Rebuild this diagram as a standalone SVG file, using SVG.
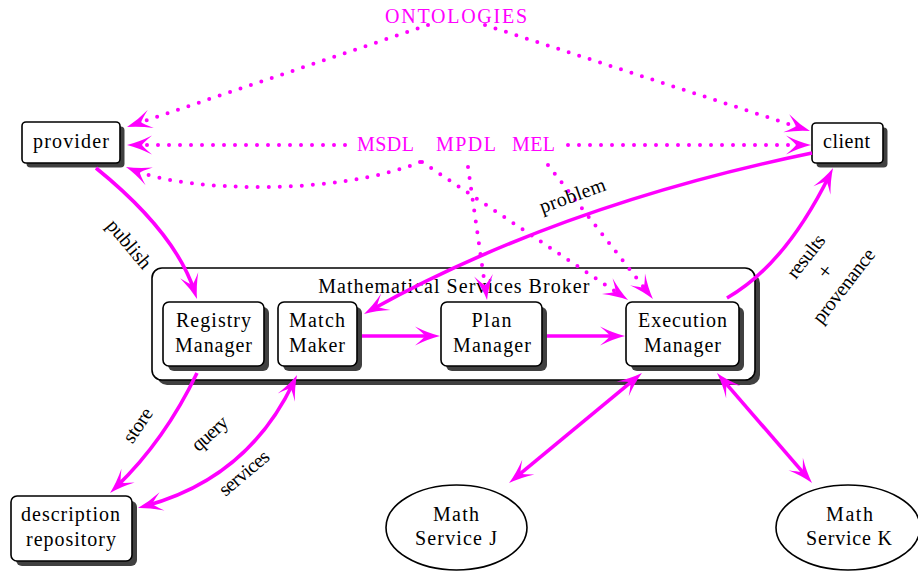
<svg xmlns="http://www.w3.org/2000/svg" width="918" height="572" viewBox="0 0 918 572">
<style>
.dot{stroke:#ff00ff;fill:none;stroke-width:4;stroke-dasharray:0 11;stroke-linecap:round}
.sol{stroke:#ff00ff;fill:none;stroke-width:3.6}
.box{fill:#fff;stroke:#000;stroke-width:1.6}
.shd{fill:#404040}
.ell{fill:#fff;stroke:#000;stroke-width:1.6}
text{font-family:"Liberation Serif","DejaVu Serif",serif;font-size:20px;text-anchor:middle;fill:#000}
.m{fill:#ff00ff}
</style>
<defs>
<marker id="ah" markerUnits="userSpaceOnUse" viewBox="-20 -12 32 24" markerWidth="32" markerHeight="24" refX="0" refY="0" orient="auto-start-reverse" overflow="visible">
<path d="M8,0 Q-4,-3 -17,-9.5 Q-8,-2 -7,0 Q-8,2 -17,9.5 Q-4,3 8,0 Z" fill="#ff00ff"/>
</marker>
</defs>
<rect width="918" height="572" fill="#fff"/>

<g id="ontologies"><text class="m" x="456" y="23" textLength="142">ONTOLOGIES</text></g>
<g id="msdl"><text class="m" x="385.5" y="151" textLength="57">MSDL</text></g>
<g id="mpdl"><text class="m" x="466" y="151" textLength="60">MPDL</text></g>
<g id="mel"><text class="m" x="533.5" y="151" textLength="43">MEL</text></g>

<g id="provider">
<rect class="shd" x="26.5" y="126.5" width="98" height="41" rx="4"/>
<rect class="box" x="22" y="122" width="98" height="41" rx="4"/>
<text x="71" y="148" textLength="76">provider</text>
</g>
<g id="client">
<rect class="shd" x="816.5" y="127.5" width="71" height="40" rx="4"/>
<rect class="box" x="812" y="123" width="71" height="40" rx="4"/>
<text x="846.5" y="148" textLength="47">client</text>
</g>

<g id="broker">
<rect class="shd" x="157" y="273" width="603" height="112" rx="10"/>
<rect class="box" x="152" y="268" width="603" height="112" rx="10"/>
<text x="453.8" y="293" textLength="271">Mathematical Services Broker</text>
</g>
<g id="registry">
<rect class="shd" x="168" y="307" width="101" height="64" rx="6"/>
<rect class="box" x="163" y="302" width="101" height="64" rx="6"/>
<text x="213.5" y="327" textLength="75">Registry</text>
<text x="213.5" y="352" textLength="77">Manager</text>
</g>
<g id="matchmaker">
<rect class="shd" x="283" y="307" width="79" height="64" rx="6"/>
<rect class="box" x="278" y="302" width="79" height="64" rx="6"/>
<text x="317" y="327" textLength="56">Match</text>
<text x="317" y="352" textLength="56">Maker</text>
</g>
<g id="plan">
<rect class="shd" x="446" y="307" width="101" height="64" rx="6"/>
<rect class="box" x="441" y="302" width="101" height="64" rx="6"/>
<text x="491.5" y="327" textLength="40">Plan</text>
<text x="492" y="352" textLength="78">Manager</text>
</g>
<g id="execution">
<rect class="shd" x="631" y="307" width="113" height="64" rx="6"/>
<rect class="box" x="626" y="302" width="113" height="64" rx="6"/>
<text x="682.5" y="327" textLength="89">Execution</text>
<text x="682.5" y="352" textLength="77">Manager</text>
</g>
<g id="repository">
<rect class="shd" x="16" y="501" width="121" height="65" rx="6"/>
<rect class="box" x="11" y="496" width="121" height="65" rx="6"/>
<text x="70.5" y="521" textLength="99">description</text>
<text x="71" y="546" textLength="90">repository</text>
</g>
<g id="serviceJ">
<ellipse class="ell" cx="456.5" cy="527.5" rx="70.5" ry="42.5"/>
<text x="456" y="521" textLength="46">Math</text>
<text x="456" y="545" textLength="82">Service J</text>
</g>
<g id="serviceK">
<ellipse class="ell" cx="848" cy="527.5" rx="72" ry="42.5"/>
<text x="849.5" y="521" textLength="47">Math</text>
<text x="849" y="545" textLength="86">Service K</text>
</g>

<g id="connectors">
<path class="dot" d="M428,25 L134.6,124.4" marker-end="url(#ah)"/>
<path class="dot" d="M485,25 L802.4,128.5" marker-end="url(#ah)"/>
<path class="dot" d="M345,145 L135,145" marker-end="url(#ah)"/>
<path class="dot" d="M568,145 L803,145" marker-end="url(#ah)"/>
<path class="dot" d="M420,162 C340,195 190,193 133.4,170" marker-end="url(#ah)"/>
<path class="dot" d="M422,162 L621.4,295.5" marker-end="url(#ah)"/>
<path class="dot" d="M468,167 L485.9,292.1" marker-end="url(#ah)"/>
<path class="dot" d="M548,165 L648,292.7" marker-end="url(#ah)"/>

<path class="sol" d="M96,168 Q175,232 194.5,291.4" marker-end="url(#ah)"/>
<path class="sol" d="M812,153 Q560,205 371,310" marker-end="url(#ah)"/>
<path class="sol" d="M727,298 Q785,265 829.5,175.2" marker-end="url(#ah)"/>
<path class="sol" d="M362,336 L432,336" marker-end="url(#ah)"/>
<path class="sol" d="M547,336 L617,336" marker-end="url(#ah)"/>
<path class="sol" d="M197,373 Q165,440 115.8,487.4" marker-end="url(#ah)"/>
<path class="sol" d="M293.6,382.2 Q248,478 145.7,505.9" marker-start="url(#ah)" marker-end="url(#ah)"/>
<path class="sol" d="M635.8,378.1 L515.2,477.9" marker-start="url(#ah)" marker-end="url(#ah)"/>
<path class="sol" d="M722.2,379.1 L806.8,476.9" marker-start="url(#ah)" marker-end="url(#ah)"/>

<text transform="translate(128,245) rotate(50)" y="5" textLength="58">publish</text>
<text transform="translate(573,197) rotate(-20)" y="5" textLength="69">problem</text>
<text transform="translate(139,426) rotate(-56)" y="5" textLength="38">store</text>
<text transform="translate(212,436) rotate(-42)" y="3" textLength="42">query</text>
<text transform="translate(245,474) rotate(-40)" y="5" textLength="59.5">services</text>
<g transform="translate(826,272) rotate(-52)">
<text y="-19" textLength="50">results</text>
<text y="6" style="font-size:22px">+</text>
<text y="29" textLength="89">provenance</text>
</g>
</g>
</svg>
